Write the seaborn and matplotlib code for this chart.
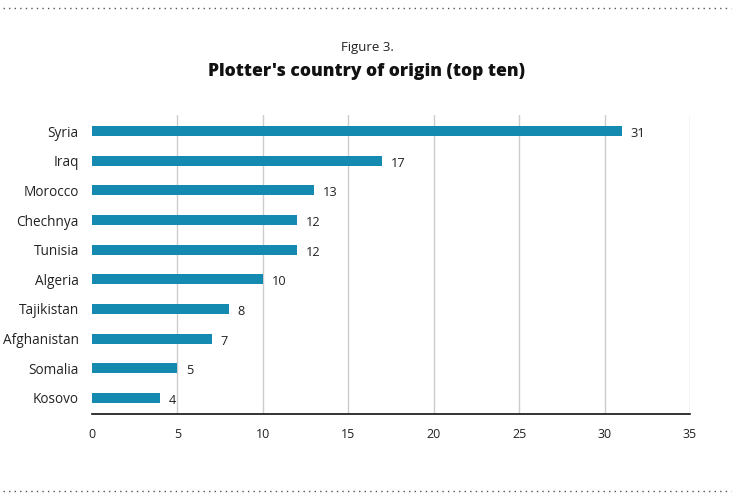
import matplotlib
matplotlib.use("Agg")
import matplotlib.pyplot as plt
from matplotlib.lines import Line2D
import seaborn as sns
import pandas as pd

countries = ["Syria", "Iraq", "Morocco", "Chechnya", "Tunisia", "Algeria",
             "Tajikistan", "Afghanistan", "Somalia", "Kosovo"]
counts = [31, 17, 13, 12, 12, 10, 8, 7, 5, 4]
x_ticks = [0, 5, 10, 15, 20, 25, 30, 35]

sns.set_style("white")
plt.rcParams['font.family'] = ['Open Sans', 'DejaVu Sans']

df = pd.DataFrame({"country": countries, "count": counts})

fig = plt.figure(figsize=(7.51, 5.0), dpi=100)
ax = fig.add_axes([92/751, 1-414/500, (690-92)/751, (414-115)/500])

sns.barplot(data=df, x="count", y="country", color="#148AB0", saturation=1,
            width=0.34, ax=ax, zorder=3, edgecolor="none")

ax.set_xlim(0, 35)
ax.set_ylim(9.54, -0.54)
ax.set_xticks(x_ticks)
ax.set_xticklabels([str(t) for t in x_ticks], fontsize=9, color="#222222")
ax.tick_params(axis="y", labelsize=9.8, labelcolor="#222222", length=0, pad=9.5)
ax.tick_params(axis="x", length=0, pad=10)
ax.set_xlabel("")
ax.set_ylabel("")
for t in x_ticks[1:]:
    ax.axvline(t, color="#cccccc", lw=1, zorder=1)
for s in ["top", "right", "left"]:
    ax.spines[s].set_visible(False)
ax.spines["bottom"].set_color("#111111")
ax.spines["bottom"].set_linewidth(1.2)
ax.spines["bottom"].set_zorder(4)

for i, v in enumerate(counts):
    ax.text(v + 0.5, i + 0.08, str(v), va="center", ha="left", fontsize=9.2, color="#222222")

fig.text(367/751, 1-48/500, "Figure 3.", ha="center", va="center", fontsize=9.5, color="#222222")
fig.text(367/751, 1-71/500, "Plotter's country of origin (top ten)", ha="center", va="center",
         fontsize=12.6, fontweight=800, color="#111111")

for yy in [8, 491]:
    fig.add_artist(Line2D([3/751, 731/751], [1-yy/500, 1-yy/500], transform=fig.transFigure,
                          color="#555555", lw=1, linestyle=(0, (1, 3))))

fig.savefig("out.png", dpi=100)
